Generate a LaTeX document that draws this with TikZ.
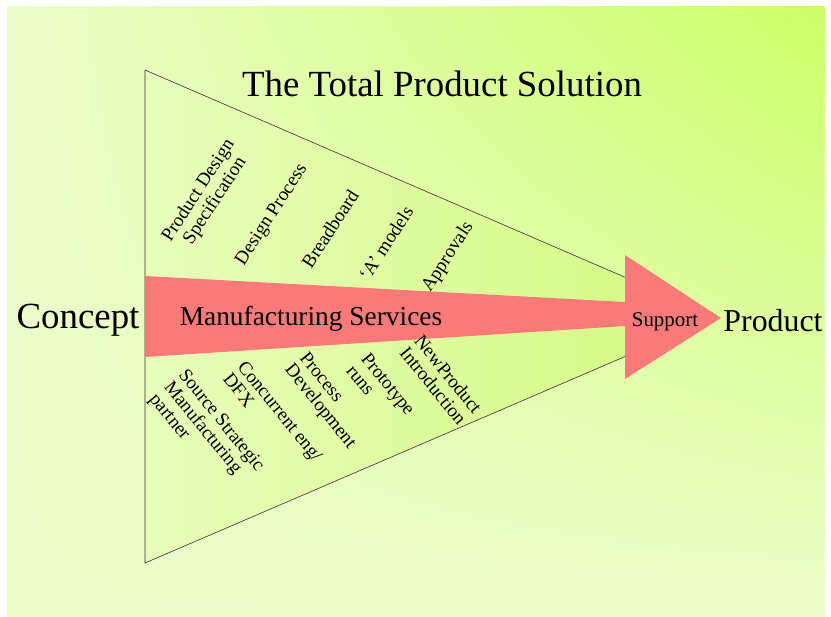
\documentclass[tikz,border=0pt]{standalone}
\usepackage{fontspec}
\setmainfont{Liberation Serif}
\usetikzlibrary{shadings}
\definecolor{bgpale}{RGB}{236,252,202}
\definecolor{bglime}{RGB}{204,255,102}
\definecolor{trileft}{RGB}{232,252,186}
\definecolor{triright}{RGB}{212,250,128}
\definecolor{arrowred}{RGB}{250,122,122}
\tikzset{
  upperlbl/.style={font=\fontsize{19}{19.5}\selectfont,inner sep=0pt,align=center,rotate=57},
  lowerlbl/.style={font=\fontsize{19}{19}\selectfont,inner sep=0pt,align=left,rotate=-51},
  biglbl/.style={inner sep=0pt,anchor=base},
}
\begin{document}
\begin{tikzpicture}[x=1bp,y=1bp,line join=bevel]
\useasboundingbox (0,0) rectangle (831,617);
%%
\shade[upper left=bgpale,lower left=bgpale,upper right=bglime,lower right=bgpale] (7,0) rectangle (825,610);
\coordinate (tri_top) at (145,547);
\coordinate (tri_bot) at (145,54);
\coordinate (tri_tip) at (717,300);
\shade[left color=trileft,right color=triright] (tri_top) -- (tri_tip) -- (tri_bot) -- cycle;
\draw [black!80,line width=0.6pt] (tri_top) -- (tri_tip) -- (tri_bot) -- cycle;
\fill [arrowred] (145,341) -- (625,315) -- (625,362) -- (721,299) -- (625,238) -- (625,291) -- (145,260) -- cycle;
%
\node (title) at (442bp,520bp) [biglbl,font=\fontsize{37}{37}\selectfont] {The Total Product Solution};
\node (concept) at (78bp,288bp) [biglbl,font=\fontsize{37}{37}\selectfont] {Concept};
\node (product) at (773bp,285bp) [biglbl,font=\fontsize{32}{32}\selectfont] {Product};
\node (mfg) at (311bp,291bp) [biglbl,font=\fontsize{27.5}{27.5}\selectfont] {Manufacturing Services};
\node (support) at (665bp,290bp) [biglbl,font=\fontsize{21}{21}\selectfont] {Support};
%
\node (pds) at (207bp,421bp) [upperlbl] {Product Design\\Specification};
\node (design) at (272bp,402bp) [upperlbl] {Design Process};
\node (bread) at (330bp,388bp) [upperlbl] {Breadboard};
\node (amodels) at (386bp,374bp) [upperlbl] {`A' models};
\node (approvals) at (448bp,360bp) [upperlbl] {Approvals};
%
\node (npi) at (441bp,237bp) [lowerlbl] {NewProduct\\Introduction};
\node (proto) at (381bp,227bp) [lowerlbl] {Prototype\\runs};
\node (procdev) at (327bp,216bp) [lowerlbl] {Process\\Development};
\node (conc) at (273bp,200bp) [lowerlbl] {Concurrent eng/\\DFX};
\node (source) at (206bp,184bp) [lowerlbl] {Source Strategic\\Manufacturing\\partner};
%
\end{tikzpicture}
\end{document}
